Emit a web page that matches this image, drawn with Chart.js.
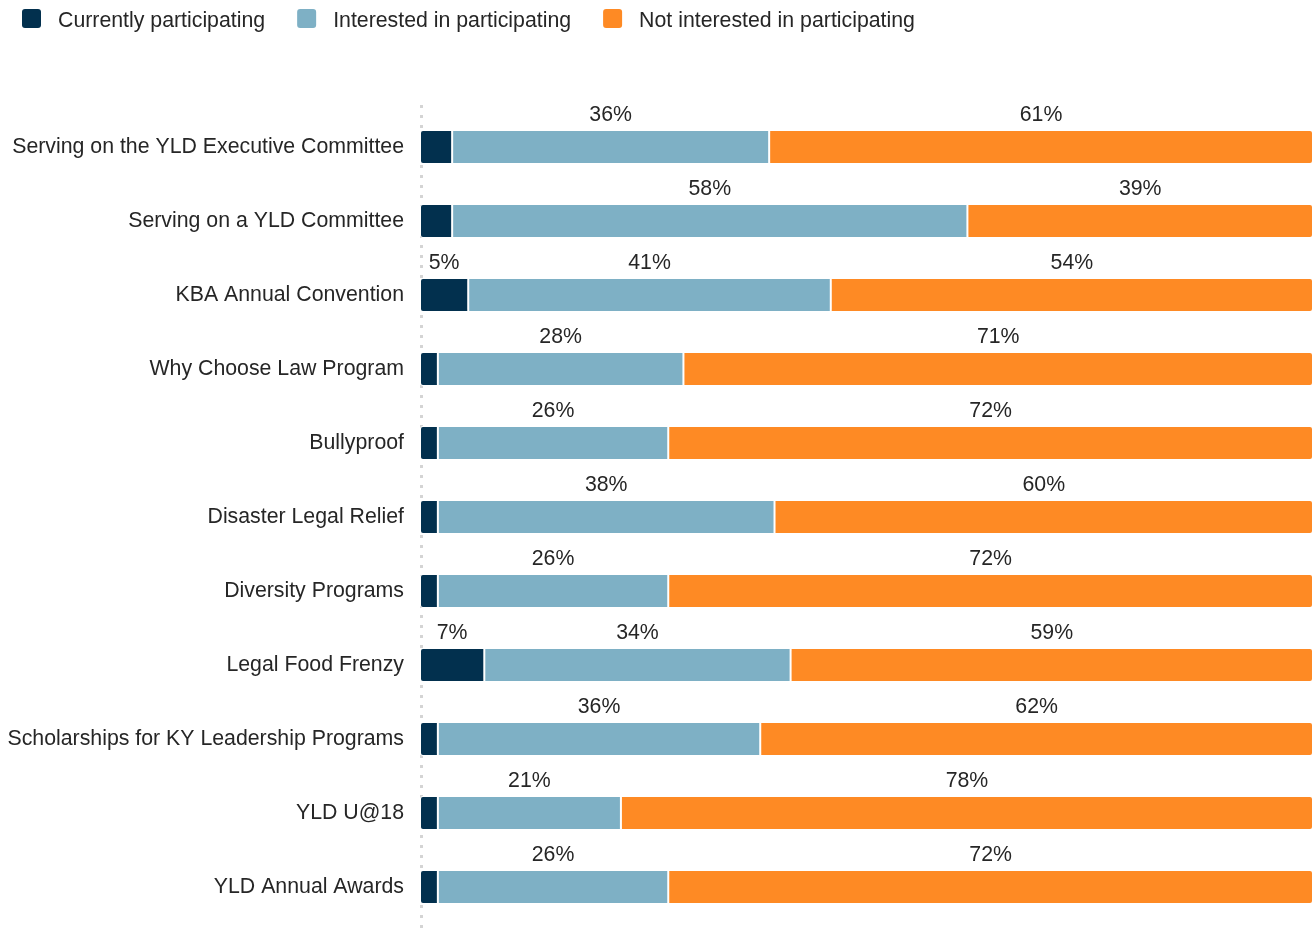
<!DOCTYPE html>
<html lang="en">
<head>
    <meta charset="UTF-8">
    <title>YLD Programs Participation</title>
    <style>
        html, body { margin: 0; padding: 0; background: #fff; }
        #wrap { position: relative; width: 1315px; height: 930px; }
    </style>
</head>
<body>
    <div id="wrap">
        <canvas id="chart"></canvas>
    </div>

    <script src="https://cdn.jsdelivr.net/npm/chart.js"></script>
    <script>
        const categories = [
            'Serving on the YLD Executive Committee',
            'Serving on a YLD Committee',
            'KBA Annual Convention',
            'Why Choose Law Program',
            'Bullyproof',
            'Disaster Legal Relief',
            'Diversity Programs',
            'Legal Food Frenzy',
            'Scholarships for KY Leadership Programs',
            'YLD U@18',
            'YLD Annual Awards'
        ];
        const seriesNames = ['Currently participating', 'Interested in participating', 'Not interested in participating'];
        const currently = [3.6, 3.6, 5.4, 2.0, 2.0, 2.0, 2.0, 7.2, 2.0, 2.0, 2.0];
        const interested = [35.5, 57.7, 40.6, 27.5, 25.8, 37.7, 25.8, 34.3, 36.1, 20.5, 25.8];
        const notInterested = [60.9, 38.7, 54.0, 70.5, 72.2, 60.3, 72.2, 58.5, 61.9, 77.5, 72.2];
        const colors = ['#02304e', '#7eb0c5', '#fe8a24'];

        const FONT = '"Liberation Sans", Arial, sans-serif';
        const SIZE = 21.3;
        const TEXT = '#262626';

        // legend drawn on the canvas, left aligned like the original
        const topLegend = {
            id: 'topLegend',
            afterDraw(chart) {
                const ctx = chart.ctx;
                ctx.save();
                ctx.font = SIZE + 'px ' + FONT;
                ctx.textBaseline = 'middle';
                let x = 22;
                seriesNames.forEach((name, i) => {
                    ctx.fillStyle = colors[i];
                    ctx.beginPath();
                    ctx.roundRect(x, 9, 19, 19, 3);
                    ctx.fill();
                    ctx.fillStyle = TEXT;
                    ctx.fillText(name, x + 36, 21);
                    x += 36 + ctx.measureText(name).width + 32;
                });
                ctx.restore();
            }
        };

        // dotted baseline at zero
        const zeroLine = {
            id: 'zeroLine',
            beforeDatasetsDraw(chart) {
                const ctx = chart.ctx;
                const x = chart.scales.x.getPixelForValue(0) + 1.5;
                ctx.save();
                ctx.strokeStyle = '#d4d4d4';
                ctx.lineWidth = 3;
                ctx.setLineDash([3, 7]);
                ctx.beginPath();
                ctx.moveTo(x, chart.chartArea.top - 5);
                ctx.lineTo(x, chart.height);
                ctx.stroke();
                ctx.restore();
            }
        };

        // percentage labels above each segment
        const barLabels = {
            id: 'barLabels',
            afterDatasetsDraw(chart) {
                const ctx = chart.ctx;
                ctx.save();
                ctx.font = SIZE + 'px ' + FONT;
                ctx.fillStyle = TEXT;
                ctx.textAlign = 'center';
                ctx.textBaseline = 'middle';
                chart.data.datasets.forEach((ds, di) => {
                    const meta = chart.getDatasetMeta(di);
                    meta.data.forEach((bar, i) => {
                        const v = Math.round(ds.data[i]);
                        if (v < 5) return;
                        const p = bar.getProps(['x', 'y', 'base', 'height'], true);
                        ctx.fillText(v + '%', (p.x + p.base) / 2, p.y - p.height / 2 - 15);
                    });
                });
                ctx.restore();
            }
        };

        const data = {
            labels: categories,
            datasets: [
                {
                    label: seriesNames[0],
                    data: currently,
                    backgroundColor: colors[0],
                    borderRadius: { topLeft: 3, bottomLeft: 3 }
                },
                {
                    label: seriesNames[1],
                    data: interested,
                    backgroundColor: colors[1],
                    borderRadius: 0
                },
                {
                    label: seriesNames[2],
                    data: notInterested,
                    backgroundColor: colors[2],
                    borderRadius: { topRight: 3, bottomRight: 3 }
                }
            ]
        };

        const config = {
            type: 'bar',
            data: data,
            options: {
                indexAxis: 'y',
                responsive: false,
                animation: false,
                layout: { padding: { top: 110, bottom: 6, right: 2, left: 0 } },
                datasets: {
                    bar: {
                        borderColor: '#ffffff',
                        borderWidth: 1,
                        borderSkipped: false,
                        barPercentage: 0.46,
                        categoryPercentage: 1
                    }
                },
                plugins: {
                    legend: { display: false },
                    tooltip: { enabled: false }
                },
                scales: {
                    x: {
                        stacked: true,
                        min: 0,
                        max: 100,
                        display: false
                    },
                    y: {
                        stacked: true,
                        grid: { display: false, drawTicks: false },
                        border: { display: false },
                        ticks: {
                            padding: 16,
                            color: TEXT,
                            font: { family: FONT, size: SIZE }
                        },
                        afterFit(scale) {
                            scale.width = 420;
                            // labels sit mid-band, no need for edge room
                            scale.paddingTop = 0;
                            scale.paddingBottom = 0;
                        }
                    }
                }
            },
            plugins: [topLegend, zeroLine, barLabels]
        };

        const canvas = document.getElementById('chart');
        canvas.width = 1315;
        canvas.height = 930;
        const chart = new Chart(canvas, config);
    </script>
</body>
</html>
